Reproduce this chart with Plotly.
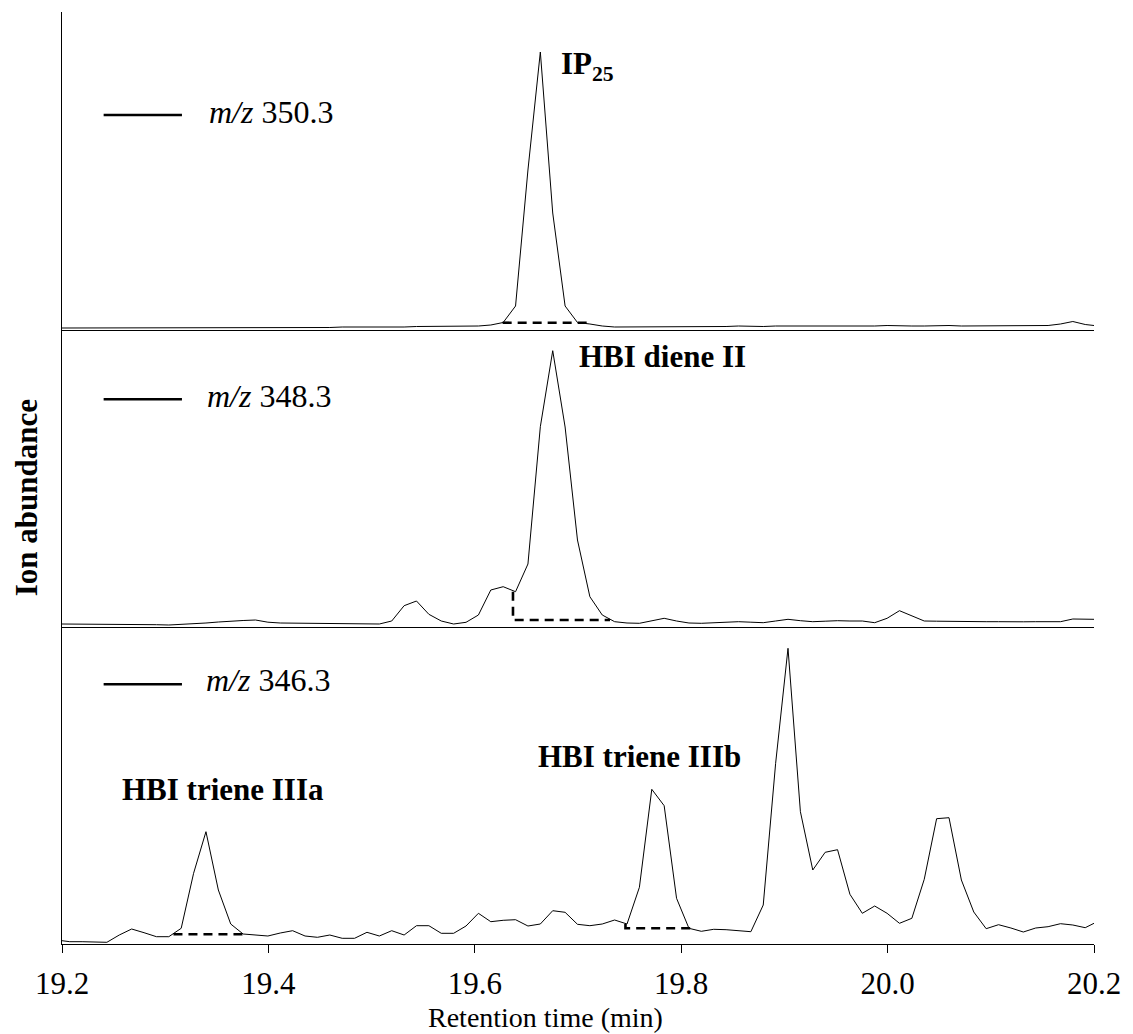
import plotly.graph_objects as go

# ---------------- data ----------------
times = [19.2000,
         19.2075, 19.2195, 19.2315, 19.2435, 19.2555, 19.2675, 19.2795, 19.2915, 19.3035, 19.3155,
         19.3275, 19.3395, 19.3515, 19.3635, 19.3755, 19.3875, 19.3995, 19.4115, 19.4235, 19.4355,
         19.4475, 19.4595, 19.4715, 19.4835, 19.4955, 19.5075, 19.5195, 19.5315, 19.5435, 19.5555,
         19.5675, 19.5795, 19.5915, 19.6035, 19.6155, 19.6275, 19.6395, 19.6515, 19.6635, 19.6755,
         19.6875, 19.6995, 19.7115, 19.7235, 19.7355, 19.7475, 19.7595, 19.7715, 19.7835, 19.7955,
         19.8075, 19.8195, 19.8315, 19.8435, 19.8555, 19.8675, 19.8795, 19.8915, 19.9035, 19.9155,
         19.9275, 19.9395, 19.9515, 19.9635, 19.9755, 19.9875, 19.9995, 20.0115, 20.0235, 20.0355,
         20.0475, 20.0595, 20.0715, 20.0835, 20.0955, 20.1075, 20.1195, 20.1315, 20.1435, 20.1555,
         20.1675, 20.1795, 20.1915,
         20.2000]

mz350 = [2.0,
         2.0, 2.0, 2.5, 2.5, 2.5, 2.0, 2.0, 2.0, 2.5, 2.5,
         2.5, 2.5, 2.0, 2.0, 2.5, 2.0, 2.0, 2.5, 2.5, 2.5,
         2.5, 2.5, 3.0, 3.0, 2.5, 3.0, 3.0, 3.0, 3.5, 3.5,
         3.5, 3.5, 4.0, 4.0, 5.0, 7.5, 24.0, 160.0, 278.0, 117.0,
         24.0, 7.5, 6.0, 4.0, 3.0, 3.0, 3.0, 3.5, 3.5, 3.5,
         3.5, 3.5, 3.5, 3.5, 4.0, 3.5, 3.5, 4.0, 4.0, 3.5,
         3.5, 4.0, 3.5, 3.5, 4.0, 4.0, 4.5, 4.0, 4.0, 4.0,
         4.5, 4.5, 4.0, 4.0, 4.5, 4.0, 4.0, 4.0, 4.0, 4.5,
         6.0, 8.5, 5.5,
         4.5]

mz348 = [3.0,
         3.0, 3.0, 2.7, 2.5, 2.7, 2.8, 2.8, 2.3, 2.0, 2.5,
         3.2, 4.0, 5.0, 6.0, 6.5, 7.0, 4.8, 4.0, 3.8, 3.5,
         3.5, 3.3, 3.3, 3.2, 3.2, 3.0, 6.0, 21.3, 26.0, 12.7,
         6.0, 3.0, 4.7, 12.0, 37.0, 40.3, 35.3, 63.0, 200.3, 276.3,
         200.0, 87.0, 30.3, 12.0, 5.3, 4.0, 3.7, 6.0, 8.7, 6.0,
         4.0, 3.7, 4.0, 5.0, 5.3, 4.8, 4.3, 6.0, 7.7, 6.3,
         5.3, 5.8, 6.3, 6.0, 6.0, 4.3, 8.7, 16.3, 11.0, 6.0,
         5.8, 5.5, 5.3, 5.5, 5.3, 5.3, 5.0, 5.2, 5.3, 5.3,
         5.3, 8.0, 8.2,
         7.7]

mz346 = [3.3,
         2.3, 2.3, 2.0, 1.7, 9.0, 15.0, 11.3, 7.3, 7.3, 15.7,
         70.7, 112.3, 54.0, 20.0, 10.0, 9.0, 8.0, 11.0, 13.3, 8.0,
         6.7, 9.0, 5.7, 5.7, 11.7, 8.0, 13.3, 9.0, 18.3, 18.3,
         10.7, 10.7, 18.0, 30.7, 22.3, 23.7, 24.3, 18.0, 20.0, 33.3,
         31.7, 19.7, 18.3, 20.0, 24.0, 20.0, 56.7, 154.7, 138.3, 45.7,
         15.7, 12.7, 14.7, 14.3, 13.3, 12.3, 39.0, 180.7, 295.7, 132.3,
         74.0, 91.7, 94.3, 49.7, 30.7, 38.0, 30.7, 20.7, 25.7, 64.7,
         125.3, 126.3, 64.0, 32.0, 15.3, 19.3, 16.0, 12.0, 16.0, 17.3,
         20.3, 19.0, 16.3,
         20.7]

# integration baselines (dashed)
ip25_base_t = [19.627, 19.711]
ip25_base_y = [7.3, 7.3]
diene_base_t = [19.637, 19.637, 19.731]
diene_base_y = [35.3, 7.0, 7.0]
trieneA_base_t = [19.308, 19.380]
trieneA_base_y = [9.7, 9.7]
trieneB_base_t = [19.746, 19.746, 19.809]
trieneB_base_y = [20.0, 15.7, 15.7]

tick_vals = [19.2, 19.4, 19.6, 19.8, 20.0, 20.2]
tick_text = ["19.2", "19.4", "19.6", "19.8", "20.0", "20.2"]

ion_labels = ["<i>m/z</i> 350.3", "<i>m/z</i> 348.3", "<i>m/z</i> 346.3"]
peak_labels = ["<b>IP<sub>25</sub></b>", "<b>HBI diene II</b>",
               "<b>HBI triene IIIa</b>", "<b>HBI triene IIIb</b>"]

# ---------------- layout geometry ----------------
W, H = 1133, 1034
L, R, T, B = 62, 30, 12, 90
PW = W - L - R
PH = H - T - B
FONT = "Liberation Serif, Times New Roman, serif"


def px_x(p):
    return (p - L) / PW


def px_y(p):
    return (H - B - p) / PH


d_bot = [0, px_y(627)]
d_mid = [px_y(627), px_y(330)]
d_top = [px_y(330), 1]

fig = go.Figure()
line_style = dict(color="black", width=1)
dash_style = dict(color="black", width=2.6, dash="9px,6px")

fig.add_trace(go.Scatter(x=times, y=mz350, mode="lines", line=line_style, xaxis="x3", yaxis="y3"))
fig.add_trace(go.Scatter(x=times, y=mz348, mode="lines", line=line_style, xaxis="x2", yaxis="y2"))
fig.add_trace(go.Scatter(x=times, y=mz346, mode="lines", line=line_style, xaxis="x", yaxis="y"))

fig.add_trace(go.Scatter(x=ip25_base_t, y=ip25_base_y, mode="lines", line=dash_style, xaxis="x3", yaxis="y3"))
fig.add_trace(go.Scatter(x=diene_base_t, y=diene_base_y, mode="lines", line=dash_style, xaxis="x2", yaxis="y2"))
fig.add_trace(go.Scatter(x=trieneA_base_t, y=trieneA_base_y, mode="lines", line=dash_style, xaxis="x", yaxis="y"))
fig.add_trace(go.Scatter(x=trieneB_base_t, y=trieneB_base_y, mode="lines", line=dash_style, xaxis="x", yaxis="y"))

ax_common = dict(showgrid=False, zeroline=False, showline=True, linecolor="black", linewidth=1.3)

fig.update_layout(
    width=W, height=H, autosize=False,
    margin=dict(l=L, r=R, t=T, b=B),
    paper_bgcolor="white", plot_bgcolor="white",
    showlegend=False,
    font=dict(family=FONT, color="black"),
    xaxis=dict(domain=[0, 1], range=[19.2, 20.2], anchor="y",
               ticks="outside", ticklen=8, tickwidth=1.3, tickcolor="black",
               tickvals=tick_vals, ticktext=tick_text, ticklabelstandoff=4,
               tickfont=dict(family=FONT, size=31, color="black"),
               **ax_common),
    xaxis2=dict(domain=[0, 1], range=[19.2, 20.2], anchor="y2", matches="x",
                showticklabels=False, ticks="", **ax_common),
    xaxis3=dict(domain=[0, 1], range=[19.2, 20.2], anchor="y3", matches="x",
                showticklabels=False, ticks="", **ax_common),
    yaxis=dict(domain=d_bot, range=[0, 317], anchor="x", showticklabels=False, ticks="", **ax_common),
    yaxis2=dict(domain=d_mid, range=[0, 297], anchor="x2", showticklabels=False, ticks="", **ax_common),
    yaxis3=dict(domain=d_top, range=[0, 318], anchor="x3", showticklabels=False, ticks="", **ax_common),
)

# legend sample lines
for ypx in (115, 399.3, 684.3):
    fig.add_shape(type="line", xref="paper", yref="paper",
                  x0=px_x(104), x1=px_x(183), y0=px_y(ypx), y1=px_y(ypx),
                  line=dict(color="black", width=2.5))

# ion labels
for txt, (xp, yp) in zip(ion_labels, [(208, 111.7), (206, 396), (205, 680)]):
    fig.add_annotation(text=txt, xref="paper", yref="paper", x=px_x(xp), y=px_y(yp),
                       xanchor="left", yanchor="middle", showarrow=False,
                       font=dict(family=FONT, size=32, color="black"))

# peak labels
for txt, (xp, yp) in zip(peak_labels, [(563, 66), (581, 356), (121, 789.5), (540, 756)]):
    fig.add_annotation(text=txt, xref="paper", yref="paper", x=px_x(xp), y=px_y(yp),
                       xanchor="left", yanchor="middle", showarrow=False,
                       font=dict(family=FONT, size=31, color="black"))

# axis titles
fig.add_annotation(text="<b>Ion abundance</b>", xref="paper", yref="paper",
                   x=px_x(26), y=px_y(498), textangle=-90, showarrow=False,
                   xanchor="center", yanchor="middle",
                   font=dict(family=FONT, size=31, color="black"))
fig.add_annotation(text="Retention time (min)", xref="paper", yref="paper",
                   x=px_x(550), y=px_y(1017), showarrow=False,
                   xanchor="center", yanchor="middle",
                   font=dict(family=FONT, size=28, color="black"))

fig.write_html("out.html")
